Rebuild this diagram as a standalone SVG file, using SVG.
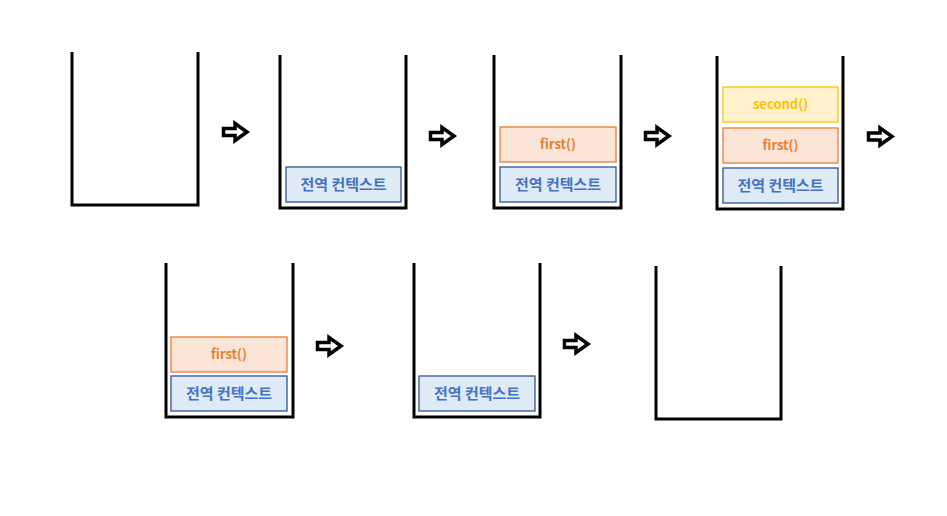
<svg xmlns="http://www.w3.org/2000/svg" width="947" height="516" viewBox="0 0 947 516">
<style>
.stack{fill:none;stroke:#000;stroke-width:3;stroke-linejoin:miter}
.g{fill:#DEEBF7;stroke:#2F5597;stroke-width:1.3}
.f{fill:#FBE5D6;stroke:#ED7D31;stroke-width:1.3}
.s{fill:#FFF2CC;stroke:#FFC000;stroke-width:1.3}
text{font-family:"Malgun Gothic","Noto Sans CJK KR",sans-serif;font-size:13px;font-weight:bold;text-anchor:middle}
.tg{fill:#4472C4;font-size:15px}
.tf{fill:#ED7D31}
.ts{fill:#FFC000}
.arr{fill:#fff;stroke:#000;stroke-width:3.5;stroke-linejoin:miter}
</style>
<defs>
<path id="arrow" d="M1.5,-3.5 H13 V-8.5 L25,0 L13,8.5 V3.5 H1.5 Z"/>
</defs>
<rect width="947" height="516" fill="#fff"/>
<g id="stack1"><path class="stack" d="M72,52 V205 H198 V52"/></g>
<g id="stack2"><path class="stack" d="M280,55 V208 H406 V55"/>
<rect class="g" x="286" y="167" width="115" height="35"/><text class="tg" x="343.5" y="190">전역 컨텍스트</text></g>
<g id="stack3"><path class="stack" d="M494,55 V208 H621 V55"/>
<rect class="f" x="500" y="127" width="116" height="35"/><text class="tf" x="558" y="149">first()</text>
<rect class="g" x="500" y="167" width="116" height="35"/><text class="tg" x="558" y="190">전역 컨텍스트</text></g>
<g id="stack4"><path class="stack" d="M717,56 V209 H843 V56"/>
<rect class="s" x="723" y="87" width="115" height="35"/><text class="ts" x="780.5" y="109">second()</text>
<rect class="f" x="723" y="128" width="115" height="35"/><text class="tf" x="780.5" y="150">first()</text>
<rect class="g" x="723" y="168" width="115" height="35"/><text class="tg" x="780.5" y="191">전역 컨텍스트</text></g>
<g id="stack5"><path class="stack" d="M166,263 V417 H293 V263"/>
<rect class="f" x="171" y="337" width="116" height="35"/><text class="tf" x="229" y="359">first()</text>
<rect class="g" x="171" y="376" width="116" height="35"/><text class="tg" x="229" y="399">전역 컨텍스트</text></g>
<g id="stack6"><path class="stack" d="M414,263 V417 H540 V263"/>
<rect class="g" x="419" y="376" width="116" height="35"/><text class="tg" x="477" y="399">전역 컨텍스트</text></g>
<g id="stack7"><path class="stack" d="M656,266 V419 H781 V266"/></g>
<g id="connectors">
<use href="#arrow" class="arr" x="222" y="132"/>
<use href="#arrow" class="arr" x="429" y="136"/>
<use href="#arrow" class="arr" x="644" y="136"/>
<use href="#arrow" class="arr" x="867" y="136.5"/>
<use href="#arrow" class="arr" x="316" y="346"/>
<use href="#arrow" class="arr" x="563" y="344"/>
</g>
</svg>
